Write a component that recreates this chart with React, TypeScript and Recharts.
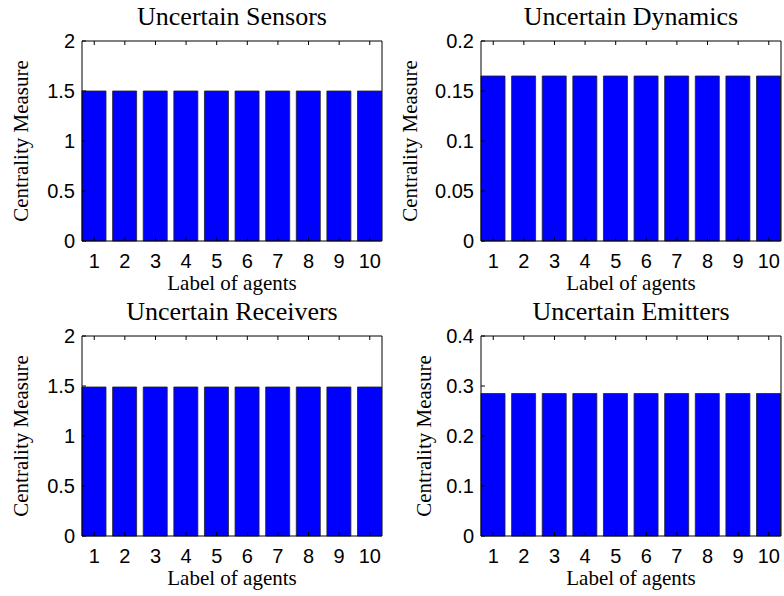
import { BarChart, Bar, XAxis, YAxis, Label } from 'recharts';

const agentLabels = [1, 2, 3, 4, 5, 6, 7, 8, 9, 10];

const sensorValues = [1.5, 1.5, 1.5, 1.5, 1.5, 1.5, 1.5, 1.5, 1.5, 1.5];
const dynamicsValues = [0.165, 0.165, 0.165, 0.165, 0.165, 0.165, 0.165, 0.165, 0.165, 0.165];
const receiverValues = [1.49, 1.49, 1.49, 1.49, 1.49, 1.49, 1.49, 1.49, 1.49, 1.49];
const emitterValues = [0.285, 0.285, 0.285, 0.285, 0.285, 0.285, 0.285, 0.285, 0.285, 0.285];

const sensorTicks = [0, 0.5, 1, 1.5, 2];
const dynamicsTicks = [0, 0.05, 0.1, 0.15, 0.2];
const receiverTicks = [0, 0.5, 1, 1.5, 2];
const emitterTicks = [0, 0.1, 0.2, 0.3, 0.4];

const SERIF = '"Liberation Serif", "Times New Roman", serif';
const SANS = '"Liberation Sans", Arial, sans-serif';

const W = 392;
const H = 296;
const PLOT_TOP = 41;
const PLOT_H = 200;
const X_AXIS_H = 30;

interface PanelProps {
  title: string;
  values: number[];
  yTicks: number[];
  left: number;
  top: number;
  axisWidth: number;
  rightMargin: number;
  yLabelX: number;
}

// one boxed bar panel: ticks point inward on all four sides
function Panel({ title, values, yTicks, left, top, axisWidth, rightMargin, yLabelX }: PanelProps) {
  const data = agentLabels.map((agent, i) => ({ agent, value: values[i] }));
  const yDomain = [yTicks[0], yTicks[yTicks.length - 1]];
  const plotW = W - axisWidth - rightMargin;
  const cx = axisWidth + plotW / 2;
  const cy = PLOT_TOP + PLOT_H / 2;
  const tickStyle = { fontFamily: SANS, fontSize: 20, fill: '#000' };

  return (
    <div style={{ position: 'absolute', left, top, width: W, height: H }}>
      <BarChart
        width={W}
        height={H}
        data={data}
        margin={{ top: PLOT_TOP - 1, right: rightMargin - 1, bottom: H - PLOT_TOP - PLOT_H - X_AXIS_H, left: 0 }}
        barCategoryGap="10%"
      >
        <XAxis
          dataKey="agent"
          type="number"
          domain={[0.6, 10.4]}
          ticks={agentLabels}
          interval={0}
          height={X_AXIS_H}
          tickSize={-4}
          tickMargin={17}
          tick={tickStyle}
          axisLine={{ stroke: '#000' }}
          tickLine={{ stroke: '#000' }}
        >
          <Label
            content={() => (
              <text x={cx} y={PLOT_TOP + PLOT_H + 49} textAnchor="middle" fontFamily={SERIF} fontSize={21} fill="#000">
                Label of agents
              </text>
            )}
          />
        </XAxis>
        <XAxis
          xAxisId="top"
          orientation="top"
          dataKey="agent"
          type="number"
          domain={[0.6, 10.4]}
          ticks={agentLabels}
          interval={0}
          height={1}
          tickSize={-4}
          tickFormatter={() => ''}
          axisLine={{ stroke: '#000' }}
          tickLine={{ stroke: '#000' }}
        >
          <Label
            content={() => (
              <text x={cx} y={PLOT_TOP - 16} textAnchor="middle" fontFamily={SERIF} fontSize={26} fill="#000">
                {title}
              </text>
            )}
          />
        </XAxis>
        <YAxis
          type="number"
          domain={yDomain}
          ticks={yTicks}
          interval={0}
          width={axisWidth}
          tickSize={-4}
          tickMargin={11}
          tick={tickStyle}
          axisLine={{ stroke: '#000' }}
          tickLine={{ stroke: '#000' }}
        >
          <Label
            content={() => (
              <text
                x={yLabelX}
                y={cy}
                transform={`rotate(-90 ${yLabelX} ${cy})`}
                textAnchor="middle"
                fontFamily={SERIF}
                fontSize={21}
                fill="#000"
              >
                Centrality Measure
              </text>
            )}
          />
        </YAxis>
        <YAxis
          yAxisId="right"
          orientation="right"
          type="number"
          domain={yDomain}
          ticks={yTicks}
          interval={0}
          width={1}
          tickSize={-4}
          tickFormatter={() => ''}
          axisLine={{ stroke: '#000' }}
          tickLine={{ stroke: '#000' }}
        />
        <Bar dataKey="value" fill="#0000ff" stroke="#222" strokeWidth={0.8} isAnimationActive={false} />
      </BarChart>
    </div>
  );
}

export default function App() {
  return (
    <div style={{ position: 'absolute', left: 0, top: 0, width: 784, height: 596, background: '#fff' }}>
      <Panel title="Uncertain Sensors" values={sensorValues} yTicks={sensorTicks} left={0} top={0} axisWidth={82} rightMargin={10} yLabelX={28} />
      <Panel title="Uncertain Dynamics" values={dynamicsValues} yTicks={dynamicsTicks} left={392} top={0} axisWidth={89} rightMargin={3} yLabelX={25} />
      <Panel title="Uncertain Receivers" values={receiverValues} yTicks={receiverTicks} left={0} top={295} axisWidth={82} rightMargin={10} yLabelX={28} />
      <Panel title="Uncertain Emitters" values={emitterValues} yTicks={emitterTicks} left={392} top={295} axisWidth={89} rightMargin={3} yLabelX={39} />
    </div>
  );
}
